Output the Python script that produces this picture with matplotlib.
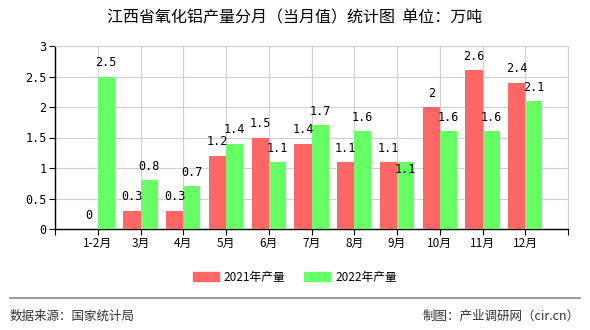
import matplotlib.pyplot as plt
import numpy as np
from matplotlib.patches import Rectangle
from matplotlib.lines import Line2D

plt.rcParams['font.family'] = ['Noto Sans CJK SC', 'DejaVu Sans']

months = ['1-2月', '3月', '4月', '5月', '6月', '7月', '8月', '9月', '10月', '11月', '12月']
vals_2021 = [0, 0.3, 0.3, 1.2, 1.5, 1.4, 1.1, 1.1, 2, 2.6, 2.4]
vals_2022 = [2.5, 0.8, 0.7, 1.4, 1.1, 1.7, 1.6, 1.1, 1.6, 1.6, 2.1]
yticks = [0, 0.5, 1, 1.5, 2, 2.5, 3]
ytick_labels = ['0', '0.5', '1', '1.5', '2', '2.5', '3']

red = '#FF6666'
green = '#66FF66'

fig = plt.figure(figsize=(5.9, 3.3), dpi=100)
ax = fig.add_axes([55/590, 1-229/330, 513/590, 183/330])

x = np.arange(1, len(months) + 1)
w = 0.4
ax.bar(x - w/2, vals_2021, w, color=red, zorder=3)
ax.bar(x + w/2, vals_2022, w, color=green, zorder=3)

lab_font = dict(family='DejaVu Sans Mono', fontsize=8.5, color='black')
for xi, a, b in zip(x, vals_2021, vals_2022):
    ax.text(xi - w/2, a + 0.12, str(a), ha='center', va='bottom', **lab_font)
    if a == b:
        # same height: push the second label under the bar top
        ax.text(xi + w/2, b - 0.02, str(b), ha='center', va='top', **lab_font)
    else:
        ax.text(xi + w/2, b + 0.12, str(b), ha='center', va='bottom', **lab_font)

ax.set_xlim(0, len(months) + 1)
ax.set_ylim(0, 3)
ax.set_xticks(np.arange(0, len(months) + 2))
ax.set_xticklabels([''] + months + [''], fontsize=8.5)
ax.set_yticks(yticks)
ax.set_yticklabels(ytick_labels, family='DejaVu Sans Mono', fontsize=8.5)
ax.grid(True, color='#d0d0d0', linewidth=0.8, zorder=0)
ax.tick_params(axis='both', length=4, width=0.8, color='black', pad=2)
for s in ['top', 'right']:
    ax.spines[s].set_color('#d0d0d0')
    ax.spines[s].set_linewidth(0.8)
for s in ['left', 'bottom']:
    ax.spines[s].set_color('black')
    ax.spines[s].set_linewidth(1)

fig.text(0.5, 1-18/330, '江西省氧化铝产量分月（当月值）统计图  单位：万吨',
         ha='center', va='center', fontsize=11.5, fontweight='medium')

handles = [Rectangle((0, 0), 1, 1, color=red), Rectangle((0, 0), 1, 1, color=green)]
fig.legend(handles, ['2021年产量', '2022年产量'], loc='center', ncol=2,
           bbox_to_anchor=(0.5, 1-277/330), frameon=False, fontsize=8.5,
           handlelength=2.2, handleheight=0.9, columnspacing=1.6, handletextpad=0.4)

fig.add_artist(Line2D([10/590, 580/590], [1-298/330, 1-298/330], color='#888888', linewidth=1.2))
fig.text(10/590, 1-316/330, '数据来源：国家统计局', ha='left', va='center', fontsize=9, color='#333333')
fig.text(580/590, 1-316/330, '制图：产业调研网（cir.cn）', ha='right', va='center', fontsize=9, color='#333333')

fig.savefig('out.png', dpi=100)
